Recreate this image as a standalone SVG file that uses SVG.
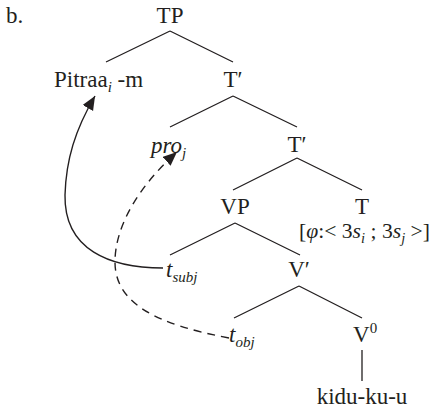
<svg xmlns="http://www.w3.org/2000/svg" width="434" height="411" viewBox="0 0 434 411">
<defs>
<style>
text{font-family:'Liberation Serif','DejaVu Serif',serif;font-size:23px;fill:#231f20}
.it{font-style:italic}
.sub{font-size:15px;font-style:italic}
.e{stroke:#231f20;stroke-width:1.3;fill:none}
.mv{stroke:#231f20;stroke-width:1.4;fill:none}
.dash{stroke-dasharray:8 6}
</style>
<marker id="ah" markerUnits="userSpaceOnUse" markerWidth="16" markerHeight="14" refX="14" refY="6" orient="auto">
<path d="M0,0 L14,6 L0,12 z" fill="#231f20"/>
</marker>
</defs>
<text x="6" y="23">b.</text>
<g id="TP"><text x="170" y="23" text-anchor="middle">TP</text></g>
<g id="Pitraa"><text x="54" y="87">Pitraa<tspan class="sub" dy="5">i</tspan><tspan dy="-5"> -m</tspan></text></g>
<g id="Tbar1"><text x="233" y="87" text-anchor="middle">T′</text></g>
<g id="pro"><text x="151" y="153" class="it">pro<tspan class="sub" dy="5">j</tspan></text></g>
<g id="Tbar2"><text x="297" y="152" text-anchor="middle">T′</text></g>
<g id="VP"><text x="235" y="214" text-anchor="middle">VP</text></g>
<g id="T"><text x="362" y="214" text-anchor="middle">T</text>
<text x="299" y="238" style="font-size:21px" textLength="131" lengthAdjust="spacingAndGlyphs">[<tspan class="it">φ</tspan>:&lt; 3<tspan class="it">s</tspan><tspan class="sub" style="font-size:14px" dy="5">i</tspan><tspan dy="-5"> ; 3</tspan><tspan class="it">s</tspan><tspan class="sub" style="font-size:14px" dy="5">j</tspan><tspan dy="-5"> &gt;]</tspan></text></g>
<g id="tsubj"><text x="166" y="277" class="it">t<tspan class="sub" dy="5">subj</tspan></text></g>
<g id="Vbar"><text x="299" y="277" text-anchor="middle">V′</text></g>
<g id="tobj"><text x="229" y="342" class="it">t<tspan class="sub" dy="5">obj</tspan></text></g>
<g id="V0"><text x="353" y="342">V<tspan font-size="15" dy="-9">0</tspan></text></g>
<g id="kidu"><text x="362" y="404" text-anchor="middle">kidu-ku-u</text></g>
<g id="connectors">
<path class="e" d="M170,31 L106,62 M170,31 L233,62"/>
<path class="e" d="M233,96 L170,127 M233,96 L297,127"/>
<path class="e" d="M297,158 L233,190 M297,158 L362,190"/>
<path class="e" d="M235,223 L170,255 M235,223 L300,255"/>
<path class="e" d="M299,286 L234,318 M299,286 L362,318"/>
<path class="e" d="M362,350 L362,381"/>
<path class="mv" d="M163,268 C110,268 64,250 65,195 C66,160 75,130 95,96" marker-end="url(#ah)"/>
<path class="mv dash" d="M229,338 C160,325 115,305 115,262 C115,225 140,185 177,152" marker-end="url(#ah)"/>
</g>
</svg>
